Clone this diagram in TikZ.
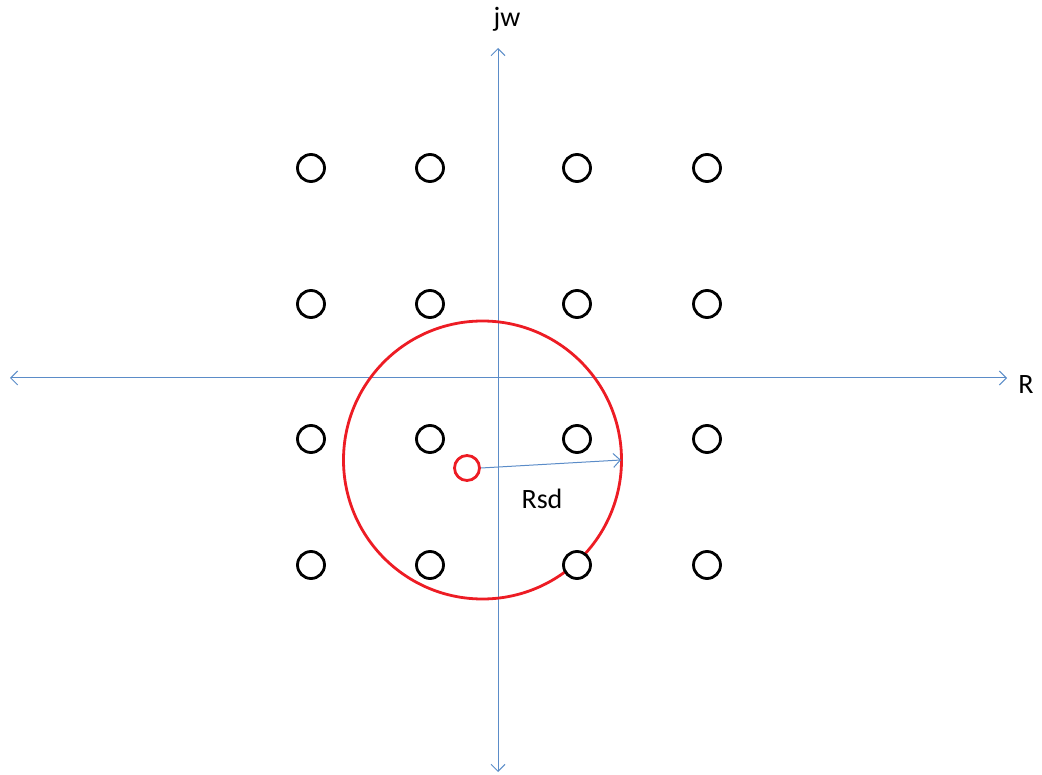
\documentclass[tikz,border=0pt]{standalone}
\usepackage{fontspec}
\setmainfont{Carlito}
\usetikzlibrary{arrows.meta}
\definecolor{axisblue}{RGB}{91,140,200}
\definecolor{pointred}{RGB}{237,28,36}
\tikzset{
  axisline/.style={draw=axisblue, line width=1pt, {Straight Barb[length=7pt,width=14pt,line width=1pt]}-{Straight Barb[length=7pt,width=14pt,line width=1pt]}},
  radiusline/.style={draw=axisblue, line width=1pt, -{Straight Barb[length=7pt,width=14pt,line width=1pt]}},
  pt/.style={circle, draw=black, fill=white, line width=2.8pt, minimum size=27pt, inner sep=0pt},
  redpt/.style={circle, draw=pointred, line width=2.8pt, minimum size=25pt, inner sep=0pt},
  bigred/.style={circle, draw=pointred, line width=2.8pt, minimum size=278pt, inner sep=0pt},
  lbl/.style={font=\fontsize{28}{32}\selectfont, inner sep=0pt}
}
\begin{document}
\begin{tikzpicture}[x=1pt,y=-1pt]
\useasboundingbox (0,0) rectangle (1042,775);
% axes
\coordinate (xl) at (10,378);
\coordinate (xr) at (1007,378);
\coordinate (yt) at (498,48);
\coordinate (yb) at (498,772);
\draw[axisline] (xl) -- (xr);
\draw[axisline] (yb) -- (yt);
\node[lbl] (jw) at (507,19) {jw};
\node[lbl] (R) at (1026,385) {R};
% red circles
\node[bigred] (big) at (482.5,460) {};
\node[redpt] (sd) at (467,468) {};
\coordinate (rim) at (621,460);
\draw[radiusline] (sd.east) -- (rim);
\node[lbl] (rsd) at (542,499) {Rsd};
% constellation points
\foreach \i/\x in {1/311,2/430,3/577,4/707}{
  \foreach \j/\y in {1/168,2/304,3/439,4/565}{
    \node[pt] (p\i\j) at (\x,\y) {};
  }
}
\end{tikzpicture}
\end{document}
